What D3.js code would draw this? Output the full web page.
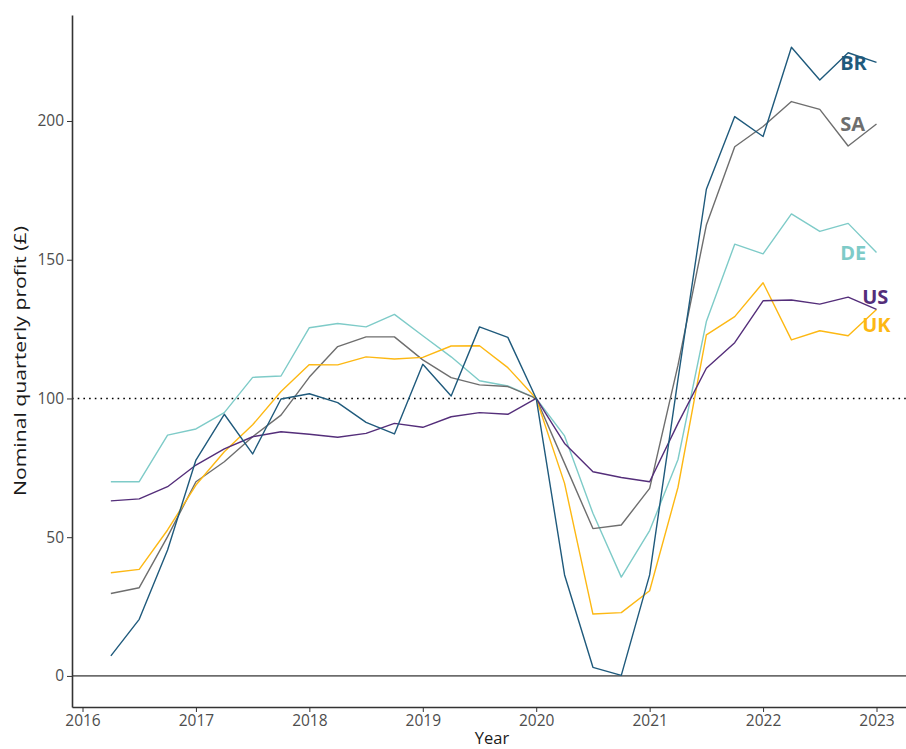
<!DOCTYPE html>
<html>
<head>
<meta charset="utf-8">
<script src="https://cdn.jsdelivr.net/npm/d3@7"></script>
<style>
  body { margin: 0; background: #fff; }
  svg { display: block; }
  .tick text { font-family: "Open Sans", sans-serif; font-size: 15.5px; fill: #4d4d4d; }
  .tick line { stroke: #333; }
  .axis-title { font-family: "Open Sans", sans-serif; font-size: 16.5px; fill: #1a1a1a; }
  .series-label { font-family: "Open Sans", sans-serif; font-size: 20px; font-weight: 700; }
</style>
</head>
<body>
<svg id="chart" width="906" height="749"></svg>
<script>
// quarters: 2016 Q2 .. 2023 Q1 (as decimal years)
var quarters = [2016.25, 2016.5, 2016.75, 2017, 2017.25, 2017.5, 2017.75, 2018,
    2018.25, 2018.5, 2018.75, 2019, 2019.25, 2019.5, 2019.75, 2020,
    2020.25, 2020.5, 2020.75, 2021, 2021.25, 2021.5, 2021.75, 2022,
    2022.25, 2022.5, 2022.75, 2023];

var br = [7.2, 20.4, 45.4, 77.8, 94.3, 80, 99.8, 101.7, 98.5, 91.4, 87.2, 112.3, 100.9, 125.8,
    122, 100, 36.4, 3.1, 0.2, 36.4, 107, 175.4, 201.6, 194.4, 226.6, 214.8, 224.6, 221.1];
var sa = [29.7, 31.8, 50.2, 70, 77.2, 86.2, 94, 107.7, 118.7, 122.2, 122.2, 113.9, 107.5, 104.9,
    104.3, 100, 76.6, 53.1, 54.4, 67.6, 112, 162.5, 190.7, 198, 207, 204.2, 191, 198.9];
var de = [70, 70, 86.8, 89, 94.9, 107.6, 108.1, 125.5, 127, 125.8, 130.3, 122.6, 115, 106.4,
    104.5, 100, 86.5, 58.6, 35.6, 52.4, 78, 127.7, 155.6, 152.1, 166.5, 160.2, 163.1, 152.6];
var uk = [37.2, 38.4, 52.6, 68.8, 80.8, 90.5, 102.5, 112.2, 112.1, 115, 114.2, 114.8, 118.9, 119,
    111.1, 100, 69.4, 22.3, 22.8, 30.7, 68, 122.9, 129.5, 141.7, 121.1, 124.4, 122.6, 132.1];
var us = [63.1, 63.8, 68.2, 76, 81.8, 86.2, 88, 87.1, 86, 87.4, 91, 89.6, 93.4, 94.9,
    94.3, 100, 83.8, 73.6, 71.5, 70, 91, 110.9, 120.1, 135.2, 135.5, 134, 136.5, 132.1];

var seriesNames = ['DE', 'SA', 'UK', 'US', 'BR'];
var seriesValues = [de, sa, uk, us, br];
var seriesColors = ['#7ecbc8', '#6e6e6e', '#fdb813', '#542e7a', '#1f5a7c'];

var xTicks = [2016, 2017, 2018, 2019, 2020, 2021, 2022, 2023];
var yTicks = [0, 50, 100, 150, 200];
var refValue = 100;

var svg = d3.select('#chart');
var margin = {top: 15, right: 0, bottom: 42, left: 72};
var width = 906 - margin.left - margin.right;
var height = 749 - margin.top - margin.bottom;

var g = svg.append('g')
    .attr('transform', 'translate(' + margin.left + ',' + margin.top + ')');

// year 2016 sits at x=82.5, 2023 at x=876.5 in the picture
var pxPerYear = (876.5 - 82.5) / 7;
var x = d3.scaleLinear()
    .domain([2016 - (82.5 - 72) / pxPerYear, 2016 + (906 - 82.5) / pxPerYear])
    .range([0, width]);

var y = d3.scaleLinear()
    .domain([-11.2, 238.2])
    .range([height, 0]);

// reference lines
g.append('line')
    .attr('x1', 0).attr('x2', width)
    .attr('y1', y(0)).attr('y2', y(0))
    .attr('stroke', '#000').attr('stroke-width', 1);

g.append('line')
    .attr('x1', 0).attr('x2', width)
    .attr('y1', y(refValue)).attr('y2', y(refValue))
    .attr('stroke', '#000').attr('stroke-width', 1.6)
    .attr('stroke-dasharray', '1.6,4.1');

var line = d3.line()
    .x(function(d, i) { return x(quarters[i]); })
    .y(function(d) { return y(d); });

g.selectAll('.series')
    .data(seriesValues)
    .enter().append('path')
    .attr('class', 'series')
    .attr('d', line)
    .attr('fill', 'none')
    .attr('stroke', function(d, i) { return seriesColors[i]; })
    .attr('stroke-width', 1.4)
    .attr('stroke-linejoin', 'round');

// labels at the end of each line, US and UK pushed apart
var nudge = {US: -13, UK: 15};
var shiftX = {US: 22, UK: 22};
g.selectAll('.series-label')
    .data(seriesNames)
    .enter().append('text')
    .attr('class', 'series-label')
    .attr('x', function(d) { return x(2022.75) - 8 + (shiftX[d] || 0); })
    .attr('y', function(d, i) {
        var v = seriesValues[i];
        return y(v[v.length - 1]) + (nudge[d] || 0);
    })
    .attr('dy', '0.36em')
    .attr('fill', function(d, i) { return seriesColors[i]; })
    .text(function(d) { return d; });

// axes
var xAxis = g.append('g')
    .attr('transform', 'translate(0,' + height + ')')
    .call(d3.axisBottom(x).tickValues(xTicks).tickFormat(d3.format('d')).tickSize(5).tickPadding(3).tickSizeOuter(0));
var yAxis = g.append('g')
    .call(d3.axisLeft(y).tickValues(yTicks).tickSize(5).tickPadding(3).tickSizeOuter(0));

xAxis.select('.domain').attr('stroke', '#333').attr('stroke-width', 1.6);
yAxis.select('.domain').attr('stroke', '#333').attr('stroke-width', 1.6);

g.append('text')
    .attr('class', 'axis-title')
    .attr('x', 492 - margin.left).attr('y', 744 - margin.top)
    .attr('text-anchor', 'middle')
    .text('Year');

g.append('text')
    .attr('class', 'axis-title')
    .attr('transform', 'translate(' + (26 - margin.left) + ',' + (361 - margin.top) + ') rotate(-90)')
    .attr('text-anchor', 'middle')
    .attr('textLength', 270)
    .attr('lengthAdjust', 'spacingAndGlyphs')
    .text('Nominal quarterly profit (£)');
</script>
</body>
</html>
